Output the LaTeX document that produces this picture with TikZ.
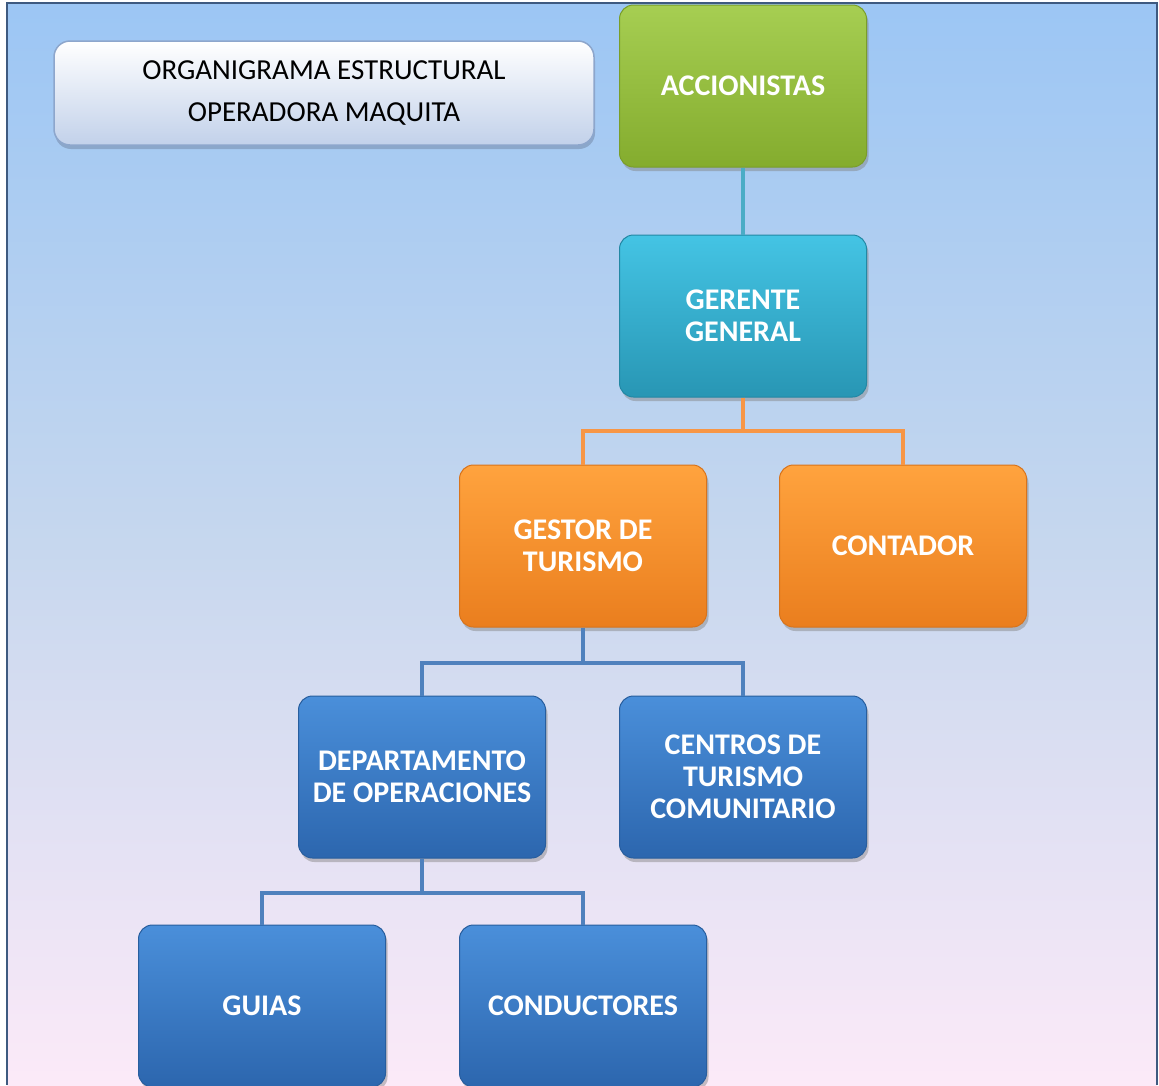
\documentclass[tikz,border=0pt]{standalone}
\usepackage{fontspec}
\setmainfont{Carlito}
\usetikzlibrary{shadows}
\definecolor{bgtop}{HTML}{9CC6F4}
\definecolor{bgmid}{HTML}{C6D7EE}
\definecolor{bgbot}{HTML}{FCEAF8}
\definecolor{frameC}{HTML}{3E5A80}
\definecolor{grT}{HTML}{A6CE52}
\definecolor{grB}{HTML}{84AC2E}
\definecolor{grD}{HTML}{7A9E2A}
\definecolor{tlT}{HTML}{44C4E4}
\definecolor{tlB}{HTML}{2896B4}
\definecolor{tlD}{HTML}{2388A4}
\definecolor{orT}{HTML}{FFA33E}
\definecolor{orB}{HTML}{EA7E1E}
\definecolor{orD}{HTML}{D8741C}
\definecolor{blT}{HTML}{4A8FDA}
\definecolor{blB}{HTML}{2C66AE}
\definecolor{blD}{HTML}{285E9E}
\definecolor{lnTeal}{HTML}{4BACC6}
\definecolor{lnOr}{HTML}{F79646}
\definecolor{lnBl}{HTML}{4F81BD}
\definecolor{ttB}{HTML}{C2D1EA}
\definecolor{ttD}{HTML}{8DA6CC}
\tikzset{
  orgbox/.style={rounded corners=14pt, minimum width=247pt, minimum height=162pt,
    align=center, text=white, font=\fontsize{30}{32}\selectfont\bfseries,
    line width=1pt, drop shadow={shadow xshift=2pt, shadow yshift=-4pt, opacity=0.45}},
  greenbox/.style={orgbox, top color=grT, bottom color=grB, draw=grD},
  tealbox/.style={orgbox, top color=tlT, bottom color=tlB, draw=tlD},
  orangebox/.style={orgbox, top color=orT, bottom color=orB, draw=orD},
  bluebox/.style={orgbox, top color=blT, bottom color=blB, draw=blD},
  titlebox/.style={rounded corners=16pt, minimum width=540pt, minimum height=104pt,
    align=center, font=\fontsize{29}{42}\selectfont, top color=white, bottom color=ttB,
    draw=ttD, line width=1.5pt,
    drop shadow={shadow xshift=1pt, shadow yshift=-4pt, opacity=0.5, fill=ttD!80!black}},
  conn/.style={line width=4pt}
}
\begin{document}
\begin{tikzpicture}[x=1pt,y=-1pt]
\useasboundingbox (0,0) rectangle (1159,1085);
\shade[top color=bgtop, bottom color=bgbot, middle color=bgmid] (7,3) rectangle (1157,1085);
\draw[frameC, line width=2pt] (7,1085) -- (7,3) -- (1157,3) -- (1157,1085);

\node[titlebox] (title) at (324,93) {ORGANIGRAMA ESTRUCTURAL\\OPERADORA MAQUITA};

\node[greenbox] (acc) at (743,86) {ACCIONISTAS};
\node[tealbox] (ger) at (743,316) {GERENTE\\GENERAL};
\node[orangebox] (ges) at (583,546) {GESTOR DE\\TURISMO};
\node[orangebox] (con) at (903,546) {CONTADOR};
\node[bluebox] (dep) at (422,777) {DEPARTAMENTO\\DE OPERACIONES};
\node[bluebox] (cen) at (743,777) {CENTROS DE\\TURISMO\\COMUNITARIO};
\node[bluebox] (gui) at (262,1006) {GUIAS};
\node[bluebox] (cond) at (583,1006) {CONDUCTORES};

\draw[conn, lnTeal] (acc.south) -- (ger.north);
\draw[conn, lnOr] (ger.south) -- ++(0,33) coordinate (j1) -| (ges.north);
\draw[conn, lnOr] (j1) -| (con.north);
\draw[conn, lnBl] (ges.south) -- ++(0,35) coordinate (j2) -| (dep.north);
\draw[conn, lnBl] (j2) -| (cen.north);
\draw[conn, lnBl] (dep.south) -- ++(0,34) coordinate (j3) -| (gui.north);
\draw[conn, lnBl] (j3) -| (cond.north);
\end{tikzpicture}
\end{document}
